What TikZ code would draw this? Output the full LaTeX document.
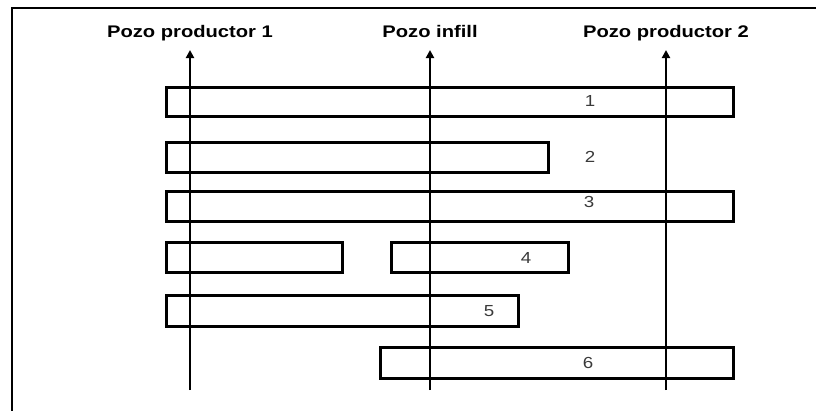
\documentclass[tikz,border=0pt]{standalone}
\usepackage{fontspec}
\setmainfont{Liberation Sans}
\newfontfamily\wellfont[FakeStretch=1.2]{Liberation Sans}
\newfontfamily\numfont[FakeStretch=1.17]{Liberation Sans}
\usetikzlibrary{arrows.meta}
\definecolor{numgray}{HTML}{3A3A3A}
\tikzset{
  frameline/.style={line width=2.2pt, black},
  layer/.style={draw=black, line width=3pt, rectangle, inner sep=0pt, outer sep=0pt},
  well/.style={line width=2pt, black, -{Triangle[length=8pt,width=8pt]}},
  welllabel/.style={font=\wellfont\bfseries\fontsize{16.8}{18}\selectfont, inner sep=0pt, anchor=base},
  layernum/.style={font=\numfont\fontsize{16}{17}\selectfont, text=numgray, inner sep=0pt}
}
\begin{document}
\begin{tikzpicture}[x=1pt,y=-1pt]
\useasboundingbox (0,0) rectangle (816,410);
\fill[white] (0,0) rectangle (816,410);

% outer frame (left and top edges)
\draw[frameline] (12,420) -- (12,8) -- (830,8);

% well names
\node[welllabel] (l1) at (190,37.5) {Pozo productor 1};
\node[welllabel] (l2) at (430,37.5) {Pozo infill};
\node[welllabel] (l3) at (666,37.5) {Pozo productor 2};

% sand layers
\node[layer, minimum width=567pt, minimum height=29pt] (b1) at (449.5,102) {};
\node[layer, minimum width=382pt, minimum height=30pt] (b2) at (357,157.7) {};
\node[layer, minimum width=567pt, minimum height=30pt] (b3) at (449.5,206) {};
\node[layer, minimum width=176pt, minimum height=30pt] (b4a) at (254,257.7) {};
\node[layer, minimum width=177pt, minimum height=30pt] (b4b) at (479.5,257.7) {};
\node[layer, minimum width=352pt, minimum height=30.7pt] (b5) at (342,311.3) {};
\node[layer, minimum width=353pt, minimum height=30.6pt] (b6) at (556.5,363) {};

% layer numbers
\node[layernum] (n1) at (590,101) {1};
\node[layernum] (n2) at (590,157) {2};
\node[layernum] (n3) at (589,202) {3};
\node[layernum] (n4) at (526,258) {4};
\node[layernum] (n5) at (489,311) {5};
\node[layernum] (n6) at (588,363) {6};

% wells
\coordinate (w1b) at (190,390);
\coordinate (w1t) at (190,50);
\coordinate (w2b) at (430,390);
\coordinate (w2t) at (430,50);
\coordinate (w3b) at (666,390);
\coordinate (w3t) at (666,50);
\draw[well] (w1b) -- (w1t);
\draw[well] (w2b) -- (w2t);
\draw[well] (w3b) -- (w3t);
\end{tikzpicture}
\end{document}
